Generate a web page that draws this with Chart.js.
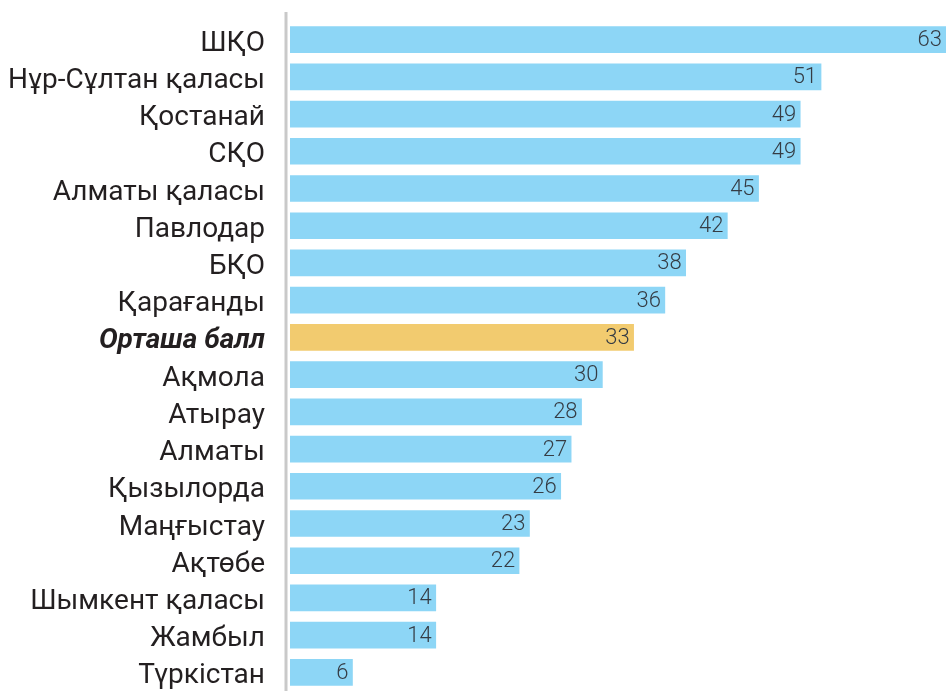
<!DOCTYPE html>
<html lang="kk">

<head>
  <meta charset="UTF-8" />
  <title>Өңірлер бойынша балл</title>
  <script src="https://cdn.jsdelivr.net/npm/chart.js"></script>
  <style>
    html, body { margin: 0; padding: 0; background: #ffffff; }
    .grafico { width: 946px; height: 691px; }
  </style>
</head>

<body>
  <div class="grafico">
    <canvas id="graficoBall"></canvas>
  </div>
</body>

</html>

<script>
  // dados
  const regioes = ['ШҚО', 'Нұр-Сұлтан қаласы', 'Қостанай', 'СҚО', 'Алматы қаласы', 'Павлодар', 'БҚО',
    'Қарағанды', 'Орташа балл', 'Ақмола', 'Атырау', 'Алматы', 'Қызылорда', 'Маңғыстау', 'Ақтөбе',
    'Шымкент қаласы', 'Жамбыл', 'Түркістан'];
  const valores = [63, 51, 49, 49, 45, 42, 38, 36, 33, 30, 28, 27, 26, 23, 22, 14, 14, 6];
  const indiceMedia = 8;

  const corBarra = '#8dd6f6';
  const corMedia = '#f2cb6f';

  // linha vertical cinza à esquerda das barras
  const linhaEixo = {
    id: 'linhaEixo',
    beforeDatasetsDraw(chart) {
      const ctx = chart.ctx;
      const x = chart.chartArea.left - 4;
      ctx.save();
      ctx.strokeStyle = '#c9c9c9';
      ctx.lineWidth = 3;
      ctx.beginPath();
      ctx.moveTo(x, 12);
      ctx.lineTo(x, chart.height);
      ctx.stroke();
      ctx.restore();
    }
  };

  // valores dentro do fim de cada barra
  const rotulosValor = {
    id: 'rotulosValor',
    afterDatasetsDraw(chart) {
      const ctx = chart.ctx;
      const meta = chart.getDatasetMeta(0);
      ctx.save();
      ctx.font = '300 22px Roboto, "Noto Sans", sans-serif';
      ctx.fillStyle = '#353c44';
      ctx.textAlign = 'right';
      ctx.textBaseline = 'middle';
      meta.data.forEach((barra, i) => {
        ctx.fillText(String(valores[i]), barra.x - 4, barra.y + 1);
      });
      ctx.restore();
    }
  };

  const config = {
    type: 'bar',
    data: {
      labels: regioes,
      datasets: [{
        data: valores,
        backgroundColor: valores.map((v, i) => i === indiceMedia ? corMedia : corBarra),
        borderWidth: 0,
        barThickness: 26
      }]
    },
    options: {
      indexAxis: 'y',
      responsive: false,
      animation: false,
      layout: { padding: { top: 21, right: 0, bottom: 0, left: 0 } },
      plugins: {
        legend: { display: false },
        tooltip: { enabled: false }
      },
      scales: {
        x: {
          display: false,
          min: 0,
          max: 63
        },
        y: {
          afterFit(scale) {
            scale.width = 290;
            scale.paddingTop = 0;
            scale.paddingBottom = 0;
          },
          grid: { display: false, drawTicks: false },
          border: { display: false },
          ticks: {
            padding: 25,
            labelOffset: 4,
            color: '#231f20',
            autoSkip: false,
            font: (c) => c.index === indiceMedia
              ? { family: 'Roboto, "Noto Sans", sans-serif', size: 28, weight: 'bold', style: 'italic' }
              : { family: 'Roboto, "Noto Sans", sans-serif', size: 28 }
          }
        }
      }
    },
    plugins: [linhaEixo, rotulosValor]
  };

  const canvas = document.getElementById('graficoBall');
  canvas.width = 946;
  canvas.height = 691;
  new Chart(canvas.getContext('2d'), config);
</script>
